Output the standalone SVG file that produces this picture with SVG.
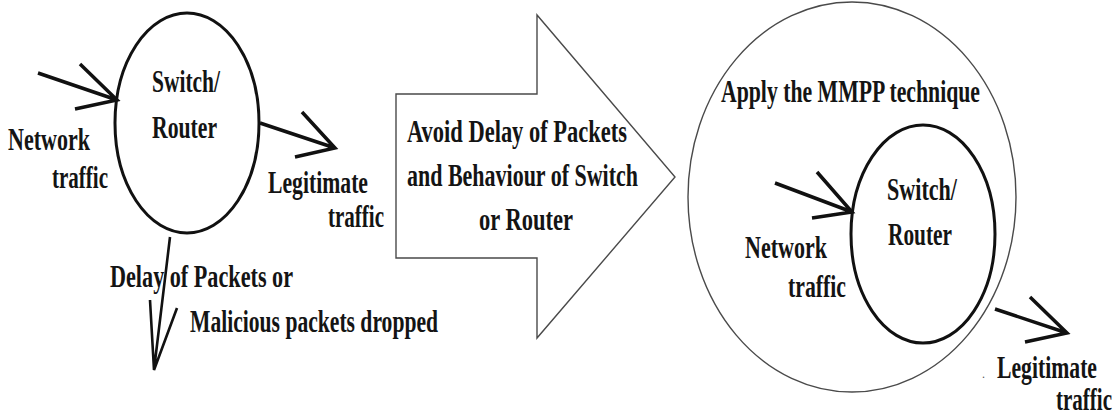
<svg xmlns="http://www.w3.org/2000/svg" width="1118" height="419" viewBox="0 0 1118 419">
  <style>
    .lbl { font-family: "Liberation Serif", "Times New Roman", serif; font-weight: bold; font-size: 32px; fill: #141414; }
    .dot { font-family: "Liberation Serif", "Times New Roman", serif; font-size: 12px; fill: #555; }
    .node { fill: none; stroke: #111; stroke-width: 3; }
    .thin { fill: none; stroke: #4a4a4a; stroke-width: 1.4; }
    .flow { fill: none; stroke: #111; stroke-width: 3.5; stroke-linecap: butt; stroke-linejoin: miter; }
    .drop { fill: none; stroke: #111; stroke-width: 2.6; }
  </style>
  <rect width="1118" height="419" fill="#fff"/>

  <!-- before: a plain switch/router -->
  <g id="router-before">
    <ellipse class="node" cx="187" cy="123" rx="72" ry="110"/>
    <text class="lbl" x="152" y="92" textLength="68" lengthAdjust="spacingAndGlyphs">Switch/</text>
    <text class="lbl" x="152" y="138" textLength="65" lengthAdjust="spacingAndGlyphs">Router</text>
  </g>

  <g id="label-in-before">
    <text class="lbl" x="8" y="150" textLength="82" lengthAdjust="spacingAndGlyphs">Network</text>
    <text class="lbl" x="52" y="188" textLength="56" lengthAdjust="spacingAndGlyphs">traffic</text>
  </g>

  <g id="label-out-before">
    <text class="lbl" x="268" y="193" textLength="100" lengthAdjust="spacingAndGlyphs">Legitimate</text>
    <text class="lbl" x="328" y="227" textLength="56" lengthAdjust="spacingAndGlyphs">traffic</text>
  </g>

  <g id="label-drop">
    <text class="lbl" x="110" y="287" textLength="183" lengthAdjust="spacingAndGlyphs">Delay of Packets or</text>
    <text class="lbl" x="190" y="332" textLength="248" lengthAdjust="spacingAndGlyphs">Malicious packets dropped</text>
  </g>

  <!-- transition block arrow -->
  <g id="transition">
    <polygon class="thin" points="396,94 537,94 537,15 675,177 537,338 537,258 396,258" fill="#fff"/>
    <text class="lbl" x="407" y="142" textLength="220" lengthAdjust="spacingAndGlyphs">Avoid Delay of Packets</text>
    <text class="lbl" x="407" y="186" textLength="231" lengthAdjust="spacingAndGlyphs">and Behaviour of Switch</text>
    <text class="lbl" x="479" y="230" textLength="94" lengthAdjust="spacingAndGlyphs">or Router</text>
  </g>

  <!-- after: router wrapped by the MMPP stage -->
  <g id="mmpp">
    <ellipse class="thin" cx="852" cy="197" rx="164" ry="195"/>
    <text class="lbl" x="721" y="102" textLength="259" lengthAdjust="spacingAndGlyphs">Apply the MMPP technique</text>
  </g>

  <g id="router-after">
    <ellipse class="node" cx="923" cy="234" rx="72" ry="109"/>
    <text class="lbl" x="887" y="200" textLength="70" lengthAdjust="spacingAndGlyphs">Switch/</text>
    <text class="lbl" x="888" y="245" textLength="64" lengthAdjust="spacingAndGlyphs">Router</text>
  </g>

  <g id="label-in-after">
    <text class="lbl" x="745" y="258" textLength="82" lengthAdjust="spacingAndGlyphs">Network</text>
    <text class="lbl" x="788" y="297" textLength="58" lengthAdjust="spacingAndGlyphs">traffic</text>
  </g>

  <g id="label-out-after">
    <text class="dot" x="982" y="378">.</text>
    <text class="lbl" x="997" y="378" textLength="100" lengthAdjust="spacingAndGlyphs">Legitimate</text>
    <text class="lbl" x="1056" y="410" textLength="56" lengthAdjust="spacingAndGlyphs">traffic</text>
  </g>

  <!-- open-headed flow arrows -->
  <g id="connectors">
    <path class="flow" d="M38,73 L117,100 M80,64 L117,100 L75,109"/>
    <path class="flow" d="M260,123 L335,148 M302,112 L335,148 L295,157"/>
    <path class="drop" d="M170,237 L154,370 M150,300 L154,370 L177,308"/>
    <path class="flow" d="M775,183 L852,212 M817,172 L852,212 L812,218"/>
    <path class="flow" d="M995,309 L1067,333 M1030,297 L1067,333 L1025,342"/>
  </g>
</svg>
